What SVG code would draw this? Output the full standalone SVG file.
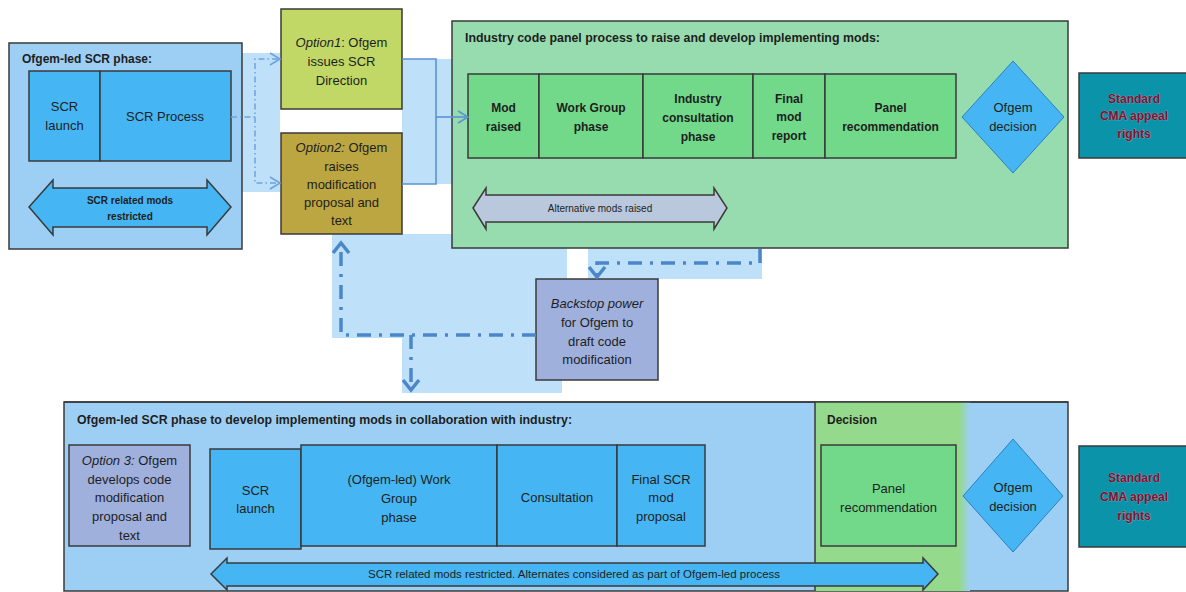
<svg xmlns="http://www.w3.org/2000/svg" width="1186" height="592" viewBox="0 0 1186 592">
<style>
text{font-family:"Liberation Sans",Arial,sans-serif;fill:#1e1e1e;text-anchor:middle}
.t{font-size:13px}
.b{font-size:12px;font-weight:bold}
.h{font-size:12px;font-weight:bold;text-anchor:start}
.s{font-size:10px}
.cma{font-size:12px;font-weight:bold;fill:#7a1430;stroke:#d9a2b4;stroke-width:0.5;paint-order:stroke}
.bd{stroke:#3a3a3a;stroke-width:1.5}
.lb{fill:#9dcff5}
.cell{fill:#45b6f3}
.gc{fill:#72d98a}
.band{fill:#bee0f8}
.lav{fill:#9fb0dd}
.teal{fill:#0a93a9}
.thin{fill:none;stroke:#6fa3db;stroke-width:1.5;stroke-dasharray:6 3 1.5 3}
.solid{fill:none;stroke:#5b93d3;stroke-width:1.6}
.thick{fill:none;stroke:#4a86c8;stroke-width:3.5;stroke-dasharray:14 8 3 8}
.chev{fill:none;stroke:#4a86c8;stroke-width:3.5}
.chevt{fill:none;stroke:#6fa3db;stroke-width:1.6}
</style>
<defs>
<linearGradient id="dec" x1="0" x2="1" y1="0" y2="0">
<stop offset="0" stop-color="#95d98c"/>
<stop offset="0.93" stop-color="#95d98c"/>
<stop offset="1" stop-color="#9dcff5"/>
</linearGradient>
</defs>

<g id="backdrop">
<rect class="band" x="242" y="53" width="38" height="139"/>
<rect class="band" x="402" y="59" width="50" height="125"/>
<rect class="band" x="332" y="234" width="235" height="104"/>
<rect class="band" x="402" y="338" width="160" height="55"/>
<rect class="band" x="588" y="248" width="174" height="31"/>
</g>

<g id="scr-phase">
<rect class="lb bd" x="9" y="43" width="233" height="206"/>
<text class="h" x="22" y="63">Ofgem-led SCR phase:</text>
<rect class="cell bd" x="29" y="71" width="71" height="90"/>
<text class="t" x="64.5" y="111">SCR</text>
<text class="t" x="64.5" y="130">launch</text>
<rect class="cell bd" x="100" y="71" width="131" height="90"/>
<text class="t" x="165" y="121">SCR Process</text>
<path class="cell bd" d="M29,207 L53,180 L53,188 L207,188 L207,180 L231,207 L207,235 L207,227 L53,227 L53,235 Z"/>
<text class="s" x="130" y="204" style="font-weight:bold">SCR related mods</text>
<text class="s" x="130" y="220" style="font-weight:bold">restricted</text>
</g>

<g id="option1">
<rect class="bd" fill="#c1d866" x="281" y="9" width="121" height="100"/>
<text class="t" x="341.5" y="47"><tspan font-style="italic">Option1</tspan>: Ofgem</text>
<text class="t" x="341.5" y="66">issues SCR</text>
<text class="t" x="341.5" y="85">Direction</text>
</g>

<g id="option2">
<rect class="bd" fill="#bca641" x="281" y="133" width="121" height="101"/>
<text class="t" x="341.5" y="152"><tspan font-style="italic">Option2:</tspan> Ofgem</text>
<text class="t" x="341.5" y="171">raises</text>
<text class="t" x="341.5" y="189">modification</text>
<text class="t" x="341.5" y="207">proposal and</text>
<text class="t" x="341.5" y="225">text</text>
</g>

<g id="industry-panel">
<rect class="bd" fill="#97dcae" x="452" y="21" width="616" height="227"/>
<text class="h" x="465" y="42" textLength="415" lengthAdjust="spacingAndGlyphs">Industry code panel process to raise and develop implementing mods:</text>
<rect class="gc bd" x="468" y="74" width="71" height="84"/>
<text class="b" x="503.5" y="112">Mod</text>
<text class="b" x="503.5" y="131">raised</text>
<rect class="gc bd" x="539" y="74" width="104" height="84"/>
<text class="b" x="591" y="112">Work Group</text>
<text class="b" x="591" y="131">phase</text>
<rect class="gc bd" x="643" y="74" width="110" height="84"/>
<text class="b" x="698" y="103">Industry</text>
<text class="b" x="698" y="122">consultation</text>
<text class="b" x="698" y="141">phase</text>
<rect class="gc bd" x="753" y="74" width="72" height="84"/>
<text class="b" x="789" y="103">Final</text>
<text class="b" x="789" y="121">mod</text>
<text class="b" x="789" y="140">report</text>
<rect class="gc bd" x="825" y="74" width="131" height="84"/>
<text class="b" x="890.5" y="112">Panel</text>
<text class="b" x="890.5" y="131">recommendation</text>
<path d="M473,208 L486,188 L486,195 L714,195 L714,188 L727,208 L714,229 L714,222 L486,222 L486,229 Z" fill="#b9c8dc" stroke="#3a3a3a" stroke-width="1.5"/>
<text class="s" x="600" y="212">Alternative  mods raised</text>
</g>

<g id="ofgem-decision-1">
<path class="cell" d="M1013,61 L1064,117 L1013,173 L962,117 Z" stroke="#2f7fc0" stroke-width="1"/>
<text class="t" x="1013" y="112">Ofgem</text>
<text class="t" x="1013" y="131">decision</text>
</g>

<g id="cma-1">
<rect class="teal bd" x="1079" y="73" width="110" height="85"/>
<text class="cma" x="1134" y="103">Standard</text>
<text class="cma" x="1134" y="120">CMA appeal</text>
<text class="cma" x="1134" y="138">rights</text>
</g>

<g id="backstop">
<rect class="lav bd" x="536" y="279" width="122" height="101"/>
<text class="t" x="597" y="308" font-style="italic">Backstop power</text>
<text class="t" x="597" y="327">for Ofgem to</text>
<text class="t" x="597" y="346">draft code</text>
<text class="t" x="597" y="364">modification</text>
</g>

<g id="ofgem-led-scr-collab">
<rect class="lb bd" x="64" y="402" width="1004" height="189"/>
<rect x="815" y="402" width="155" height="189" fill="url(#dec)"/>
<line x1="815" y1="402" x2="815" y2="591" stroke="#3a3a3a" stroke-width="1.5"/>
<line x1="64" y1="402" x2="1068" y2="402" stroke="#3a3a3a" stroke-width="1.5"/>
<text class="h" x="77" y="424" textLength="495" lengthAdjust="spacingAndGlyphs">Ofgem-led SCR phase to develop implementing mods in collaboration with industry:</text>
<text class="h" x="827" y="424">Decision</text>
</g>

<g id="option3">
<rect class="lav bd" x="69" y="445" width="121" height="101"/>
<text class="t" x="129.5" y="465"><tspan font-style="italic">Option 3:</tspan> Ofgem</text>
<text class="t" x="129.5" y="484">develops code</text>
<text class="t" x="129.5" y="502">modification</text>
<text class="t" x="129.5" y="521">proposal and</text>
<text class="t" x="129.5" y="540">text</text>
</g>

<g id="scr-steps">
<rect class="cell bd" x="210" y="449" width="91" height="100"/>
<text class="t" x="255.5" y="495">SCR</text>
<text class="t" x="255.5" y="513">launch</text>
<rect class="cell bd" x="301" y="445" width="196" height="101"/>
<text class="t" x="399" y="484">(Ofgem-led) Work</text>
<text class="t" x="399" y="503">Group</text>
<text class="t" x="399" y="522">phase</text>
<rect class="cell bd" x="497" y="445" width="120" height="101"/>
<text class="t" x="557" y="502">Consultation</text>
<rect class="cell bd" x="617" y="445" width="88" height="101"/>
<text class="t" x="661" y="484">Final SCR</text>
<text class="t" x="661" y="502">mod</text>
<text class="t" x="661" y="521">proposal</text>
</g>

<g id="panel-rec-2">
<rect class="gc bd" x="821" y="445" width="135" height="101"/>
<text class="t" x="888.5" y="493">Panel</text>
<text class="t" x="888.5" y="512">recommendation</text>
</g>

<g id="ofgem-decision-2">
<path class="cell" d="M1013,439 L1063,496 L1013,552 L963,496 Z" stroke="#2f7fc0" stroke-width="1"/>
<text class="t" x="1013" y="492">Ofgem</text>
<text class="t" x="1013" y="511">decision</text>
</g>

<g id="cma-2">
<rect class="teal bd" x="1079" y="446" width="110" height="101"/>
<text class="cma" x="1134" y="482">Standard</text>
<text class="cma" x="1134" y="501">CMA appeal</text>
<text class="cma" x="1134" y="520">rights</text>
</g>

<g id="restricted-arrow">
<path class="cell bd" d="M211,574 L227,558 L227,563 L923,563 L923,558 L938,574 L923,590 L923,586 L227,586 L227,590 Z"/>
<text class="s" x="574" y="578" textLength="412" lengthAdjust="spacingAndGlyphs">SCR related mods restricted. Alternates  considered as part of Ofgem-led process</text>
</g>

<g id="connectors">
<path class="thin" d="M231,117 L255,117"/>
<path class="thin" d="M278,59 L255,59 L255,183 L278,183"/>
<path class="chevt" d="M270,53 L280,59 L270,65"/>
<path class="chevt" d="M270,177 L280,183 L270,189"/>
<path class="solid" d="M402,59 L436,59 L436,184 L402,184"/>
<path class="solid" d="M436,117 L466,117"/>
<path class="solid" d="M458,111 L468,117 L458,123"/>
<path class="thick" d="M536,335 L341,335 L341,246"/>
<path class="thick" d="M411,335 L411,388"/>
<path class="chev" d="M333,253 L341,243 L349,253"/>
<path class="chev" d="M403,380 L411,390 L419,380"/>
<path class="thick" d="M760,249 L760,263 L597,263 L597,275"/>
<path class="chev" d="M589,267 L597,277 L605,267"/>
</g>
</svg>
